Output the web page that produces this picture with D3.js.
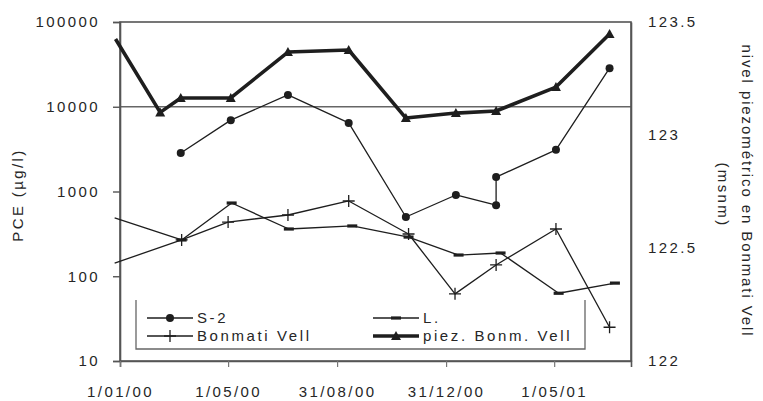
<!DOCTYPE html>
<html>
<head>
<meta charset="utf-8">
<script src="https://cdn.jsdelivr.net/npm/d3@7"></script>
<style>
  html, body { margin: 0; padding: 0; background: #fff; }
  svg { display: block; }
  text { font-family: "Liberation Sans", Arial, sans-serif; fill: #262626; }
</style>
</head>
<body>
<svg id="chart" width="763" height="401"></svg>
<script>
// ---- data ----
const xTickDates = ["2000-01-01", "2000-05-01", "2000-08-31", "2000-12-31", "2001-05-01"];
const leftTicks = [10, 100, 1000, 10000, 100000];
const rightTicks = [122, 122.5, 123, 123.5];

const s2Dates = ["2000-03-09", "2000-05-04", "2000-07-07", "2000-09-13", "2000-11-16", "2001-01-11", "2001-02-25", "2001-02-25", "2001-05-03", "2001-07-02"];
const s2Values = [2850, 6950, 13800, 6450, 500, 910, 690, 1480, 3100, 28500];

const lDates = ["1999-12-26", "2000-03-10", "2000-05-05", "2000-07-08", "2000-09-17", "2000-11-19", "2001-01-14", "2001-03-02", "2001-05-06", "2001-07-08"];
const lValues = [487, 268, 731, 361, 392, 290, 178, 188, 63, 83];

const bonDates = ["1999-12-26", "2000-03-10", "2000-05-01", "2000-07-07", "2000-09-13", "2000-11-19", "2001-01-10", "2001-02-25", "2001-05-03", "2001-07-02"];
const bonValues = [143, 268, 436, 528, 773, 315, 62, 136, 361, 25];

const piezDates = ["1999-12-27", "2000-02-15", "2000-03-09", "2000-05-04", "2000-07-07", "2000-09-13", "2000-11-16", "2001-01-11", "2001-02-25", "2001-05-03", "2001-07-02"];
const piezValues = [123.425, 123.10, 123.164, 123.164, 123.367, 123.376, 123.075, 123.097, 123.106, 123.212, 123.447];

const seriesNames = ["S-2", "L.", "Bonmati Vell", "piez. Bonm. Vell"];

// ---- layout ----
const svg = d3.select("#chart");
const plot = { left: 120, right: 631, top: 22, bottom: 361 };
const parse = d3.utcParse("%Y-%m-%d");
const x = d3.scaleUtc().domain([parse("2000-01-01"), parse("2001-07-26")]).range([plot.left, plot.right]);
const yL = d3.scaleLog().domain([10, 100000]).range([plot.bottom, plot.top]);
const yR = d3.scaleLinear().domain([122, 123.5]).range([plot.bottom, plot.top]);
const LS = "2.4px";
const ink = "#1e1e1e";
const frame = "#555";

// gridline at 10000
svg.append("line")
  .attr("x1", plot.left).attr("x2", plot.right)
  .attr("y1", yL(10000)).attr("y2", yL(10000))
  .attr("stroke", "#666").attr("stroke-width", 1.3);

// plot frame
svg.append("rect")
  .attr("x", plot.left).attr("y", plot.top)
  .attr("width", plot.right - plot.left).attr("height", plot.bottom - plot.top)
  .attr("fill", "none").attr("stroke", frame).attr("stroke-width", 1.6);

// left axis
const gL = svg.append("g").attr("transform", `translate(${plot.left},0)`)
  .call(d3.axisLeft(yL).tickValues(leftTicks).tickFormat(d3.format("d")).tickSize(7).tickPadding(13));
gL.select(".domain").attr("stroke", frame).attr("stroke-width", 1.6);
gL.selectAll(".tick line").attr("stroke", frame).attr("stroke-width", 1.4);
gL.selectAll(".tick text").attr("font-size", 15).attr("fill", "#262626")
  .style("letter-spacing", LS).attr("font-family", "Liberation Sans, Arial, sans-serif");

// right axis
const gR = svg.append("g").attr("transform", `translate(${plot.right},0)`)
  .call(d3.axisRight(yR).tickValues(rightTicks).tickFormat(d => String(d)).tickSize(0).tickPadding(17));
gR.select(".domain").attr("stroke", frame).attr("stroke-width", 1.6);
gR.selectAll(".tick text").attr("font-size", 15).attr("fill", "#262626")
  .style("letter-spacing", LS).attr("font-family", "Liberation Sans, Arial, sans-serif");

// bottom axis
const gB = svg.append("g").attr("transform", `translate(0,${plot.bottom})`)
  .call(d3.axisBottom(x).tickValues(xTickDates.map(parse)).tickFormat(d3.utcFormat("%-d/%m/%y")).tickSize(6).tickPadding(19));
gB.select(".domain").attr("stroke", frame).attr("stroke-width", 1.6);
gB.selectAll(".tick line").attr("stroke", "#777").attr("stroke-width", 1.2);
gB.selectAll(".tick text").attr("font-size", 15).attr("fill", "#262626")
  .style("letter-spacing", LS).attr("font-family", "Liberation Sans, Arial, sans-serif");

// axis titles
svg.append("text")
  .attr("transform", "translate(18,195) rotate(-90)")
  .attr("text-anchor", "middle").attr("dy", "0.35em")
  .attr("font-size", 15).style("letter-spacing", LS)
  .text("PCE (µg/l)");
svg.append("text")
  .attr("transform", "translate(747,191) rotate(90)")
  .attr("text-anchor", "middle").attr("dy", "0.35em")
  .attr("font-size", 15).style("letter-spacing", "1.9px")
  .text("nivel piezométrico en Bonmati Vell");
svg.append("text")
  .attr("transform", "translate(723,195) rotate(90)")
  .attr("text-anchor", "middle").attr("dy", "0.35em")
  .attr("font-size", 15).style("letter-spacing", LS)
  .text("(msnm)");

// ---- series ----
const dom0 = parse("2000-01-01");
function pts(dates, values, yScale) {
  return dates.map((d, i) => ({ d: parse(d), v: values[i], x: x(parse(d)), y: yScale(values[i]) }));
}
const s2 = pts(s2Dates, s2Values, yL);
const lS = pts(lDates, lValues, yL);
const bon = pts(bonDates, bonValues, yL);
const piez = pts(piezDates, piezValues, yR);

const line = d3.line().x(p => p.x).y(p => p.y);

function drawLine(data, width) {
  svg.append("path").datum(data).attr("d", line)
    .attr("fill", "none").attr("stroke", ink).attr("stroke-width", width)
    .attr("stroke-linejoin", "round");
}

const markers = {
  circle: (g) => g.append("circle").attr("r", 4).attr("fill", ink),
  dash: (g) => g.append("rect").attr("x", -5).attr("y", -1.6).attr("width", 10).attr("height", 3.2).attr("fill", ink),
  plus: (g) => g.append("path").attr("d", "M-6,0H6M0,-6V6").attr("stroke", ink).attr("stroke-width", 1.3),
  tri: (g) => g.append("path").attr("d", "M0,-5L5,4L-5,4Z").attr("fill", ink)
};

function drawMarkers(data, kind) {
  data.filter(p => p.d >= dom0).forEach(p => {
    const g = svg.append("g").attr("transform", `translate(${p.x},${p.y})`);
    markers[kind](g);
  });
}

drawLine(lS, 1.3); drawMarkers(lS, "dash");
drawLine(bon, 1.3); drawMarkers(bon, "plus");
drawLine(s2, 1.3); drawMarkers(s2, "circle");
drawLine(piez, 3.6); drawMarkers(piez, "tri");

// ---- legend ----
const lg = svg.append("g");
lg.append("rect").attr("x", 136).attr("y", 300).attr("width", 449).attr("height", 49).attr("fill", "#fff");
lg.append("path").attr("d", "M136,300V349H585V300").attr("fill", "none").attr("stroke", "#666").attr("stroke-width", 1.3);

const legendItems = [
  { name: seriesNames[0], x: 147, y: 318, kind: "circle", w: 1.3 },
  { name: seriesNames[2], x: 147, y: 336, kind: "plus", w: 1.3 },
  { name: seriesNames[1], x: 373, y: 318, kind: "dash", w: 1.3 },
  { name: seriesNames[3], x: 373, y: 336, kind: "tri", w: 3.6 }
];
legendItems.forEach(it => {
  lg.append("line").attr("x1", it.x).attr("x2", it.x + 46).attr("y1", it.y).attr("y2", it.y)
    .attr("stroke", ink).attr("stroke-width", it.w);
  const g = lg.append("g").attr("transform", `translate(${it.x + 23},${it.y})`);
  markers[it.kind](g);
  lg.append("text").attr("x", it.x + 50).attr("y", it.y).attr("dy", "0.35em")
    .attr("font-size", 15).style("letter-spacing", "2.6px").text(it.name);
});
</script>
</body>
</html>
